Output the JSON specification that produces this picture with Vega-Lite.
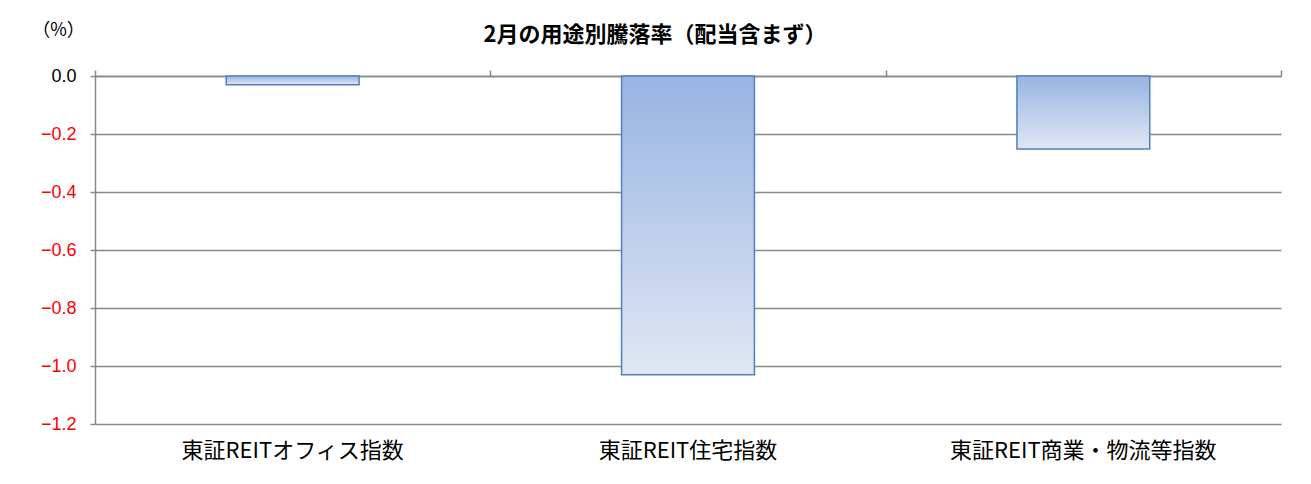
{
  "$schema": "https://vega.github.io/schema/vega-lite/v6.json",
  "autosize": "none",
  "width": 1186,
  "height": 348,
  "padding": {"left": 95, "top": 76, "right": 30, "bottom": 60},
  "background": "white",
  "config": {"view": {"stroke": null}},
  "title": {
    "text": "2月の用途別騰落率（配当含まず）",
    "font": "Noto Sans CJK JP",
    "fontSize": 22,
    "fontWeight": "bold",
    "color": "black",
    "anchor": "middle",
    "dx": -33,
    "offset": -26
  },
  "data": {
    "values": [
      {"category": "東証REITオフィス指数", "value": -0.03},
      {"category": "東証REIT住宅指数", "value": -1.03},
      {"category": "東証REIT商業・物流等指数", "value": -0.252}
    ]
  },
  "layer": [
    {
      "mark": {
        "type": "bar",
        "width": {"band": 0.336},
        "stroke": "#4f81bd",
        "strokeWidth": 1.5,
        "color": {
          "gradient": "linear",
          "x1": 0, "y1": 0, "x2": 0, "y2": 1,
          "stops": [
            {"offset": 0, "color": "#98b4e2"},
            {"offset": 1, "color": "#e0e7f4"}
          ]
        }
      },
      "encoding": {
        "x": {
          "field": "category",
          "type": "nominal",
          "sort": null,
          "scale": {"paddingInner": 0, "paddingOuter": 0},
          "axis": {
            "title": null,
            "labelAngle": 0,
            "labelFont": "Noto Sans CJK JP",
            "labelFontSize": 22,
            "labelLimit": 400,
            "labelColor": "black",
            "labelPadding": 16,
            "domain": false,
            "ticks": false
          }
        },
        "y": {
          "field": "value",
          "type": "quantitative",
          "scale": {"domain": [-1.2, 0], "nice": false},
          "axis": {
            "title": "（%）",
            "titleAngle": 0,
            "titleFont": "Noto Sans CJK JP",
            "titleFontSize": 18,
            "titleFontWeight": "normal",
            "titleColor": "black",
            "titleX": -37,
            "titleY": -46,
            "titleAlign": "center",
            "titleBaseline": "middle",
            "values": [0, -0.2, -0.4, -0.6, -0.8, -1.0, -1.2],
            "format": ".1f",
            "labelFont": "Liberation Sans",
            "labelFontSize": 18,
            "labelColor": {"condition": {"test": "datum.value < 0", "value": "red"}, "value": "black"},
            "labelPadding": 14,
            "tickSize": 5,
            "tickColor": "#888888",
            "tickWidth": 1.5,
            "domainColor": "#888888",
            "domainWidth": 1.5,
            "gridColor": "#888888",
            "gridWidth": 1.5
          }
        }
      }
    },
    {
      "mark": {"type": "rule", "color": "#888888", "strokeWidth": 0},
      "encoding": {
        "x": {
          "field": "category",
          "type": "nominal",
          "sort": null,
          "axis": {
            "orient": "top",
            "title": null,
            "labels": false,
            "tickBand": "extent",
            "tickSize": 6,
            "tickColor": "#888888",
            "tickWidth": 1.5,
            "domainColor": "#888888",
            "domainWidth": 1.5
          }
        }
      }
    }
  ],
  "resolve": {"axis": {"x": "independent"}}
}
